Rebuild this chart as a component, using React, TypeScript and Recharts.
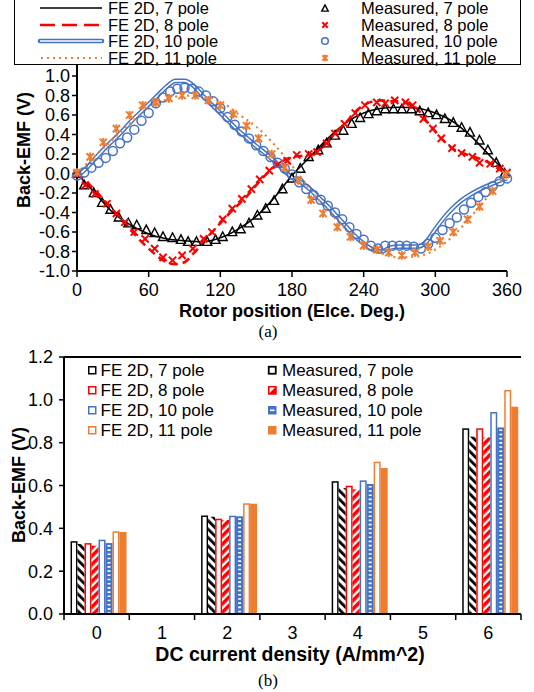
import React from "react"
import {
  Bar,
  BarChart,
  ComposedChart,
  Line,
  ReferenceLine,
  Scatter,
  XAxis,
  YAxis,
} from "recharts"

const FONT = "'Liberation Sans', Arial, sans-serif"
const SERIF = "'Liberation Serif', 'Times New Roman', serif"

const BLACK = "#000000"
const RED = "#FF0000"
const BLUE = "#4472C4"
const ORANGE = "#ED7D31"

// ---- (a) back-EMF waveforms ----
const ROTOR_TICKS = [0, 60, 120, 180, 240, 300, 360]
const EMF_TICKS = [-1, -0.8, -0.6, -0.4, -0.2, 0, 0.2, 0.4, 0.6, 0.8, 1]

const ANGLES_15 = [0, 15, 30, 45, 60, 75, 90, 105, 120, 135, 150, 165, 180, 195, 210, 225, 240, 255, 270, 285, 300, 315, 330, 345, 360]
const ANGLES_7_5 = [0, 7.5, 15, 22.5, 30, 37.5, 45, 52.5, 60, 67.5, 75, 82.5, 90, 97.5, 105, 112.5, 120, 127.5, 135, 142.5, 150, 157.5, 165, 172.5, 180, 187.5, 195, 202.5, 210, 217.5, 225, 232.5, 240, 247.5, 255, 262.5, 270, 277.5, 285, 292.5, 300, 307.5, 315, 322.5, 330, 337.5, 345, 352.5, 360]
const ANGLES_6 = [0, 6, 12, 18, 24, 30, 36, 42, 48, 54, 60, 66, 72, 78, 84, 90, 96, 102, 108, 114, 120, 126, 132, 138, 144, 150, 156, 162, 168, 174, 180, 186, 192, 198, 204, 210, 216, 222, 228, 234, 240, 246, 252, 258, 264, 270, 276, 282, 288, 294, 300, 306, 312, 318, 324, 330, 336, 342, 348, 354, 360]

const FE7 = [0, -0.2, -0.4, -0.53, -0.62, -0.67, -0.69, -0.7, -0.66, -0.57, -0.44, -0.25, -0.02, 0.17, 0.36, 0.52, 0.62, 0.67, 0.68, 0.67, 0.62, 0.53, 0.38, 0.19, 0]
const FE8 = [0, -0.08, -0.17, -0.27, -0.37, -0.48, -0.58, -0.68, -0.77, -0.85, -0.91, -0.93, -0.91, -0.82, -0.72, -0.61, -0.51, -0.41, -0.32, -0.23, -0.12, -0.02, 0.07, 0.13, 0.17, 0.18, 0.19, 0.24, 0.33, 0.43, 0.52, 0.63, 0.7, 0.74, 0.75, 0.74, 0.74, 0.72, 0.66, 0.54, 0.43, 0.33, 0.25, 0.21, 0.18, 0.15, 0.11, 0.05, 0]
const FE10 = [-0.03, 0.05, 0.15, 0.25, 0.34, 0.43, 0.53, 0.62, 0.71, 0.8, 0.89, 0.95, 0.95, 0.9, 0.8, 0.71, 0.62, 0.53, 0.44, 0.36, 0.28, 0.21, 0.13, 0.04, -0.04, -0.09, -0.16, -0.25, -0.34, -0.44, -0.54, -0.64, -0.72, -0.78, -0.8, -0.76, -0.75, -0.75, -0.75, -0.7, -0.57, -0.45, -0.35, -0.27, -0.21, -0.16, -0.12, -0.08, -0.05]
const FE11 = [0, 0.18, 0.35, 0.52, 0.67, 0.76, 0.8, 0.79, 0.74, 0.61, 0.48, 0.3, 0.08, -0.16, -0.38, -0.57, -0.72, -0.82, -0.86, -0.85, -0.78, -0.64, -0.44, -0.22, 0]

const M7_ANGLES = [0, 6, 14, 21, 28, 35, 43, 50, 58, 65, 72, 80, 87, 93, 100, 109, 116, 122, 130, 137, 144, 151, 158, 165, 172, 180, 187, 194, 202, 209, 216, 223, 230, 237, 244, 251, 258, 265, 272, 280, 287, 294, 301, 308, 315, 322, 329, 337, 344, 351, 358]
const M7 = [0, -0.12, -0.2, -0.3, -0.37, -0.45, -0.51, -0.53, -0.58, -0.61, -0.65, -0.66, -0.68, -0.7, -0.7, -0.7, -0.68, -0.65, -0.6, -0.57, -0.51, -0.43, -0.36, -0.28, -0.16, -0.05, 0.05, 0.17, 0.24, 0.31, 0.39, 0.44, 0.51, 0.57, 0.61, 0.64, 0.66, 0.66, 0.66, 0.66, 0.64, 0.62, 0.6, 0.56, 0.52, 0.47, 0.42, 0.34, 0.24, 0.11, 0]

const M8_ANGLES = [0, 7, 15, 25, 33, 40, 48, 57, 65, 72, 80, 88, 97, 106, 113, 122, 130, 138, 146, 153, 161, 168, 176, 184, 194, 201, 209, 216, 224, 233, 241, 251, 258, 266, 275, 281, 290, 298, 305, 314, 322, 331, 337, 346, 354, 360]
const M8 = [0, -0.12, -0.21, -0.31, -0.41, -0.5, -0.6, -0.67, -0.77, -0.86, -0.89, -0.84, -0.77, -0.67, -0.6, -0.47, -0.36, -0.26, -0.16, -0.06, 0.03, 0.09, 0.13, 0.19, 0.2, 0.22, 0.31, 0.41, 0.51, 0.62, 0.7, 0.73, 0.72, 0.75, 0.73, 0.7, 0.56, 0.46, 0.36, 0.26, 0.21, 0.17, 0.11, 0.1, 0.05, 0.01]

const M10 = [-0.02, 0.01, 0.06, 0.11, 0.16, 0.23, 0.31, 0.37, 0.45, 0.54, 0.62, 0.72, 0.78, 0.84, 0.87, 0.88, 0.87, 0.84, 0.8, 0.74, 0.67, 0.58, 0.5, 0.43, 0.36, 0.29, 0.23, 0.17, 0.11, 0.05, -0.01, -0.09, -0.16, -0.22, -0.27, -0.33, -0.4, -0.47, -0.55, -0.62, -0.68, -0.74, -0.77, -0.74, -0.74, -0.74, -0.74, -0.75, -0.77, -0.72, -0.66, -0.58, -0.51, -0.45, -0.37, -0.3, -0.24, -0.19, -0.13, -0.08, -0.05]

const M11_ANGLES = [0, 11, 22, 33, 44, 55, 66, 77, 88, 99, 110, 120, 131, 142, 152, 163, 174, 185, 196, 206, 218, 229, 240, 251, 261, 272, 283, 294, 304, 315, 327, 337, 348, 359]
const M11 = [0.01, 0.17, 0.32, 0.46, 0.6, 0.7, 0.73, 0.77, 0.8, 0.8, 0.75, 0.7, 0.61, 0.49, 0.36, 0.2, 0.06, -0.07, -0.27, -0.41, -0.55, -0.65, -0.74, -0.78, -0.81, -0.84, -0.81, -0.75, -0.69, -0.6, -0.47, -0.34, -0.18, -0.01]

// ---- (b) back-EMF vs DC current density ----
const DENSITY = ["0", "1", "2", "3", "4", "5", "6"]
const BAR_TICKS = [0, 0.2, 0.4, 0.6, 0.8, 1, 1.2]
const FE7_BARS = [0.34, null, 0.46, null, 0.62, null, 0.867]
const M7_BARS = [0.327, null, 0.454, null, 0.588, null, 0.828]
const FE8_BARS = [0.331, null, 0.445, null, 0.599, null, 0.867]
const M8_BARS = [0.319, null, 0.439, null, 0.582, null, 0.825]
const FE10_BARS = [0.347, null, 0.459, null, 0.624, null, 0.943]
const M10_BARS = [0.331, null, 0.456, null, 0.607, null, 0.871]
const FE11_BARS = [0.386, null, 0.517, null, 0.711, null, 1.046]
const M11_BARS = [0.383, null, 0.515, null, 0.682, null, 0.968]

const toPoints = (xs: number[], ys: number[]) => xs.map((x, i) => ({ x, y: ys[i] }))

const barRows = DENSITY.map((cat, i) => ({
  cat,
  fe7: FE7_BARS[i],
  m7: M7_BARS[i],
  fe8: FE8_BARS[i],
  m8: M8_BARS[i],
  fe10: FE10_BARS[i],
  m10: M10_BARS[i],
  fe11: FE11_BARS[i],
  m11: M11_BARS[i],
}))

// markers
function Triangle({ cx, cy, s = 9 }: any) {
  return (
    <polygon
      points={`${cx},${cy - s * 0.55} ${cx - s / 2},${cy + s * 0.4} ${cx + s / 2},${cy + s * 0.4}`}
      fill="none"
      stroke={BLACK}
      strokeWidth={1.4}
    />
  )
}

function Cross({ cx, cy, r = 3.6 }: any) {
  return (
    <path
      d={`M${cx - r},${cy - r}L${cx + r},${cy + r}M${cx - r},${cy + r}L${cx + r},${cy - r}`}
      stroke={RED}
      strokeWidth={2}
    />
  )
}

function Ring({ cx, cy, r = 4.5 }: any) {
  return <circle cx={cx} cy={cy} r={r} fill="none" stroke={BLUE} strokeWidth={1.5} />
}

function Star({ cx, cy, r = 3.6 }: any) {
  return (
    <path
      d={`M${cx - r},${cy - r}L${cx + r},${cy + r}M${cx - r},${cy + r}L${cx + r},${cy - r}M${cx},${cy - r * 1.2}L${cx},${cy + r * 1.2}`}
      stroke={ORANGE}
      strokeWidth={2}
    />
  )
}

const axisLine = { stroke: BLACK, strokeWidth: 2 }
const tickLine = { stroke: BLACK, strokeWidth: 1.5 }
const tickStyle = { fill: BLACK, fontSize: 18, fontFamily: FONT }

function WaveformChart() {
  return (
    <ComposedChart
      width={534}
      height={340}
      margin={{ top: 56.5, right: 27, bottom: 39, left: 0 }}
    >
      <XAxis
        type="number"
        dataKey="x"
        domain={[0, 360]}
        ticks={ROTOR_TICKS}
        interval={0}
        height={30}
        axisLine={axisLine}
        tickLine={tickLine}
        tickSize={6}
        tickMargin={6}
        tick={tickStyle}
      />
      <YAxis
        type="number"
        dataKey="y"
        domain={[-1, 1.2]}
        ticks={EMF_TICKS}
        interval={0}
        width={77}
        axisLine={axisLine}
        tickLine={tickLine}
        tickSize={5}
        tickMargin={2}
        tick={tickStyle}
        tickFormatter={(v: number) => v.toFixed(1)}
      />
      <YAxis
        yAxisId="frame"
        orientation="right"
        width={0}
        domain={[0, 1]}
        tick={false}
        tickLine={false}
        axisLine={axisLine}
      />

      <Line data={toPoints(ANGLES_15, FE7)} dataKey="y" type="monotone" stroke={BLACK} strokeWidth={1.6} dot={false} isAnimationActive={false} />
      <Line data={toPoints(ANGLES_7_5, FE8)} dataKey="y" type="monotone" stroke={RED} strokeWidth={2.6} strokeDasharray="8 5" dot={false} isAnimationActive={false} />
      <Line data={toPoints(ANGLES_7_5, FE10)} dataKey="y" type="monotone" stroke={BLUE} strokeWidth={4.6} dot={false} isAnimationActive={false} />
      <Line data={toPoints(ANGLES_7_5, FE10)} dataKey="y" type="monotone" stroke="#fff" strokeWidth={1.6} dot={false} isAnimationActive={false} />
      <Line data={toPoints(ANGLES_15, FE11)} dataKey="y" type="monotone" stroke={ORANGE} strokeWidth={2.2} strokeDasharray="2 4" dot={false} isAnimationActive={false} />

      <Scatter data={toPoints(M7_ANGLES, M7)} dataKey="y" shape={(p: any) => <Triangle cx={p.cx} cy={p.cy} />} isAnimationActive={false} />
      <Scatter data={toPoints(M8_ANGLES, M8)} dataKey="y" shape={(p: any) => <Cross cx={p.cx} cy={p.cy} />} isAnimationActive={false} />
      <Scatter data={toPoints(ANGLES_6, M10)} dataKey="y" shape={(p: any) => <Ring cx={p.cx} cy={p.cy} />} isAnimationActive={false} />
      <Scatter data={toPoints(M11_ANGLES, M11)} dataKey="y" shape={(p: any) => <Star cx={p.cx} cy={p.cy} />} isAnimationActive={false} />
    </ComposedChart>
  )
}

// bar chart pieces
const BAR_PLOT_WIDTH = 534 - 64 - 13
const BAND = BAR_PLOT_WIDTH / DENSITY.length

function DensityTick({ x, y, payload, index }: any) {
  const axisY = y - 12
  const left = x - BAND / 2
  const right = x + BAND / 2
  return (
    <g>
      <line x1={left} x2={left} y1={axisY} y2={axisY + 6} stroke={BLACK} strokeWidth={1.5} />
      {index === DENSITY.length - 1 && (
        <line x1={right} x2={right} y1={axisY} y2={axisY + 6} stroke={BLACK} strokeWidth={1.5} />
      )}
      <text x={x} y={y} dy="0.71em" textAnchor="middle" fill={BLACK} fontSize={18} fontFamily={FONT}>
        {payload.value}
      </text>
    </g>
  )
}

const outlineBar = (color: string) => (p: any) => {
  if (!p.height || p.height <= 0) return <g />
  return (
    <rect
      x={p.x + 0.75}
      y={p.y + 0.75}
      width={Math.max(p.width - 1.5, 0)}
      height={p.height - 0.75}
      fill="#fff"
      stroke={color}
      strokeWidth={1.5}
    />
  )
}

const patternBar = (fill: string) => (p: any) => {
  if (!p.height || p.height <= 0) return <g />
  return <rect x={p.x} y={p.y} width={p.width} height={p.height} fill={fill} />
}

const dashedBlueBar = (p: any) => {
  if (!p.height || p.height <= 0) return <g />
  const mid = p.x + p.width / 2
  return (
    <g>
      <rect x={p.x + 0.5} y={p.y + 0.5} width={p.width - 1} height={p.height - 0.5} fill={BLUE} stroke={BLUE} strokeWidth={1} />
      <line x1={mid} x2={mid} y1={p.y + 2} y2={p.y + p.height} stroke="#fff" strokeWidth={p.width * 0.42} strokeDasharray="1.6 2.6" />
    </g>
  )
}

function DensityChart() {
  return (
    <BarChart
      width={534}
      height={352}
      data={barRows}
      margin={{ top: 17, right: 13, bottom: 48, left: 0 }}
      barCategoryGap="10%"
      barGap={0}
    >
      <XAxis
        dataKey="cat"
        height={30}
        interval={0}
        axisLine={axisLine}
        tickLine={false}
        tickSize={6}
        tickMargin={6}
        tick={<DensityTick />}
      />
      <YAxis
        domain={[0, 1.2]}
        ticks={BAR_TICKS}
        interval={0}
        width={64}
        axisLine={axisLine}
        tickLine={tickLine}
        tickSize={5}
        tickMargin={6}
        tick={tickStyle}
        tickFormatter={(v: number) => v.toFixed(1)}
      />
      <YAxis
        yAxisId="frame"
        orientation="right"
        width={0}
        domain={[0, 1]}
        tick={false}
        tickLine={false}
        axisLine={axisLine}
      />
      <ReferenceLine y={1.2} stroke={BLACK} strokeWidth={2} />
      <Bar dataKey="fe7" shape={outlineBar(BLACK)} isAnimationActive={false} />
      <Bar dataKey="m7" shape={patternBar("url(#hatch-black)")} isAnimationActive={false} />
      <Bar dataKey="fe8" shape={outlineBar(RED)} isAnimationActive={false} />
      <Bar dataKey="m8" shape={patternBar("url(#hatch-red)")} isAnimationActive={false} />
      <Bar dataKey="fe10" shape={outlineBar(BLUE)} isAnimationActive={false} />
      <Bar dataKey="m10" shape={dashedBlueBar} isAnimationActive={false} />
      <Bar dataKey="fe11" shape={outlineBar(ORANGE)} isAnimationActive={false} />
      <Bar dataKey="m11" shape={patternBar(ORANGE)} isAnimationActive={false} />
    </BarChart>
  )
}

function Caption({ text, x, y, size = 18, bold = true, serif = false, rotate = false }: any) {
  return (
    <div
      style={{
        position: "absolute",
        left: x,
        top: y,
        transform: `translate(-50%, -50%)${rotate ? " rotate(-90deg)" : ""}`,
        whiteSpace: "nowrap",
        lineHeight: 1,
        fontSize: size,
        fontWeight: bold ? 700 : 400,
        fontFamily: serif ? SERIF : FONT,
        color: BLACK,
      }}
    >
      {text}
    </div>
  )
}

function LegendText({ text, x, y, size }: any) {
  return (
    <div
      style={{
        position: "absolute",
        left: x,
        top: y,
        transform: "translateY(-50%)",
        whiteSpace: "nowrap",
        lineHeight: 1,
        fontSize: size,
        fontFamily: FONT,
        color: BLACK,
      }}
    >
      {text}
    </div>
  )
}

function Glyph({ x, y, w, h, children }: any) {
  return (
    <svg
      width={w}
      height={h}
      style={{ position: "absolute", left: x, top: y - h / 2, overflow: "visible" }}
    >
      {children}
    </svg>
  )
}

const TOP_ROWS = [8, 24.5, 41, 57.5]
const BOTTOM_ROWS = [370, 390, 410, 430]

function TopLegend() {
  const lines = [
    <line x1={0} x2={62} y1={5} y2={5} stroke={BLACK} strokeWidth={1.6} />,
    <line x1={0} x2={62} y1={5} y2={5} stroke={RED} strokeWidth={2.6} strokeDasharray="15 7" />,
    <g>
      <line x1={0} x2={62} y1={5} y2={5} stroke={BLUE} strokeWidth={4.6} strokeLinecap="round" />
      <line x1={0} x2={62} y1={5} y2={5} stroke="#fff" strokeWidth={1.6} />
    </g>,
    <line x1={1} x2={62} y1={5} y2={5} stroke={ORANGE} strokeWidth={2.2} strokeDasharray="2 4" />,
  ]
  const marks = [
    <Triangle cx={5} cy={5.5} s={6.5} />,
    <Cross cx={5} cy={5} r={2.7} />,
    <Ring cx={5} cy={5} r={3.3} />,
    <Star cx={5} cy={5} r={2.7} />,
  ]
  const fe = ["FE 2D, 7 pole", "FE 2D, 8 pole", "FE 2D, 10 pole", "FE 2D, 11 pole"]
  const ms = ["Measured, 7 pole", "Measured, 8 pole", "Measured, 10 pole", "Measured, 11 pole"]
  return (
    <>
      <div
        style={{
          position: "absolute",
          left: 14,
          top: -2,
          width: 507,
          height: 67,
          border: "1.5px solid #000",
          boxSizing: "border-box",
          background: "#fff",
        }}
      />
      {TOP_ROWS.map((ry, i) => (
        <React.Fragment key={i}>
          <Glyph x={40} y={ry} w={62} h={10}>{lines[i]}</Glyph>
          <LegendText text={fe[i]} x={108} y={ry} size={16.5} />
          <Glyph x={320} y={ry} w={10} h={10}>{marks[i]}</Glyph>
          <LegendText text={ms[i]} x={361} y={ry} size={16.5} />
        </React.Fragment>
      ))}
    </>
  )
}

function BottomLegend() {
  const fe = [BLACK, RED, BLUE, ORANGE]
  const feLabels = ["FE 2D, 7 pole", "FE 2D, 8 pole", "FE 2D, 10 pole", "FE 2D, 11 pole"]
  const msLabels = ["Measured, 7 pole", "Measured, 8 pole", "Measured, 10 pole", "Measured, 11 pole"]
  const msSwatch = [
    <rect x={0.75} y={0.75} width={7} height={7} fill="#fff" stroke={BLACK} strokeWidth={1.8} />,
    <g>
      <rect x={0.75} y={0.75} width={7} height={7} fill="#fff" stroke={RED} strokeWidth={1.5} />
      <polygon points="8.5,0 8.5,8.5 0,8.5" fill={RED} />
    </g>,
    <g>
      <rect x={0} y={0} width={8.5} height={8.5} fill={BLUE} />
      <rect x={2} y={3.5} width={4.5} height={1.6} fill="#fff" />
    </g>,
    <rect x={0} y={0} width={8.5} height={8.5} fill={ORANGE} />,
  ]
  return (
    <>
      {BOTTOM_ROWS.map((ry, i) => (
        <React.Fragment key={i}>
          <Glyph x={88} y={ry} w={8.5} h={8.5}>
            <rect x={0.75} y={0.75} width={7} height={7} fill="#fff" stroke={fe[i]} strokeWidth={1.5} />
          </Glyph>
          <LegendText text={feLabels[i]} x={100.5} y={ry} size={17} />
          <Glyph x={268} y={ry} w={8.5} h={8.5}>{msSwatch[i]}</Glyph>
          <LegendText text={msLabels[i]} x={282} y={ry} size={17} />
        </React.Fragment>
      ))}
    </>
  )
}

export default function App() {
  return (
    <div
      style={{
        position: "absolute",
        left: 0,
        top: 0,
        width: 534,
        height: 692,
        background: "#fff",
        overflow: "hidden",
      }}
    >
      <svg width={0} height={0} style={{ position: "absolute" }}>
        <defs>
          <pattern id="hatch-black" width={6} height={6} patternUnits="userSpaceOnUse" patternTransform="rotate(-45)">
            <rect width={6} height={6} fill="#fff" />
            <rect width={2.8} height={6} fill={BLACK} />
          </pattern>
          <pattern id="hatch-red" width={6} height={6} patternUnits="userSpaceOnUse" patternTransform="rotate(45)">
            <rect width={6} height={6} fill="#fff" />
            <rect width={3.6} height={6} fill={RED} />
          </pattern>
        </defs>
      </svg>

      <div style={{ position: "absolute", left: 0, top: 0 }}>
        <WaveformChart />
      </div>
      <TopLegend />
      <Caption text="Back-EMF (V)" x={24} y={150} rotate />
      <Caption text="Rotor position (Elce. Deg.)" x={292} y={311} />
      <Caption text="(a)" x={268} y={331} size={17} bold={false} serif />

      <div style={{ position: "absolute", left: 0, top: 340 }}>
        <DensityChart />
      </div>
      <BottomLegend />
      <Caption text="Back-EMF (V)" x={19} y={485} rotate />
      <Caption text="DC current density (A/mm^2)" x={290} y={655} size={19.5} />
      <Caption text="(b)" x={268} y={680} size={17} bold={false} serif />
    </div>
  )
}
